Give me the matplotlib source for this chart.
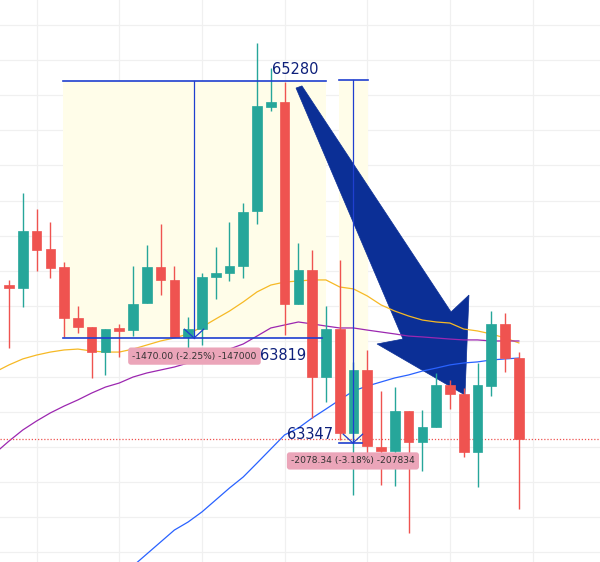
import numpy as np
import matplotlib
matplotlib.use("Agg")
import matplotlib.pyplot as plt
from matplotlib.patches import Polygon

# candle data (price)
opens = [64120, 64103, 64427, 64325, 64223, 63933, 63881, 63739, 63876, 63864,
         64018, 64223, 64149, 63825, 63870, 64166, 64188, 64228, 64541, 65132,
         65161, 64012, 64206, 63597, 63870, 63279, 63637, 63199, 63177, 63404,
         63228, 63313, 63552, 63501, 63171, 63546, 63899, 63705]
highs = [64149, 64643, 64552, 64478, 64251, 64001, 63881, 63870, 63899, 64228,
         64348, 64467, 64228, 63938, 64188, 64336, 64478, 64586, 65496, 65354,
         65274, 64359, 64319, 64001, 64262, 63683, 63751, 63518, 63540, 63404,
         63410, 63620, 63580, 63535, 63677, 63972, 63961, 63739]
lows = [63762, 63995, 64200, 64160, 63825, 63847, 63592, 63609, 63711, 63830,
        64018, 64063, 63825, 63734, 63779, 64041, 64143, 64160, 64467, 65110,
        63836, 64012, 63364, 63455, 63239, 62926, 63142, 62983, 62978, 62710,
        63063, 63313, 63415, 63142, 62972, 63489, 63626, 62847]
closes = [64103, 64427, 64319, 64217, 63933, 63881, 63739, 63870, 63859, 64012,
          64223, 64149, 63825, 63870, 64166, 64188, 64228, 64535, 65138, 65161,
          64012, 64206, 63597, 63870, 63279, 63637, 63205, 63177, 63404, 63228,
          63313, 63552, 63501, 63171, 63552, 63899, 63705, 63245]

# moving averages, starting one bar before the first visible candle
ma_fast = [63626, 63666, 63700, 63722, 63739, 63751, 63756, 63745, 63739, 63739,
           63756, 63779, 63802, 63819, 63842, 63881, 63927, 63972, 64024, 64081,
           64120, 64137, 64143, 64149, 64149, 64109, 64098, 64058, 64007, 63972,
           63944, 63921, 63910, 63904, 63870, 63859, 63842, 63819, 63791]
ma_mid = [63165, 63233, 63296, 63347, 63393, 63432, 63467, 63506, 63540, 63563,
          63597, 63620, 63637, 63654, 63677, 63700, 63728, 63756, 63785, 63830,
          63876, 63893, 63910, 63899, 63887, 63876, 63876, 63864, 63853, 63842,
          63830, 63825, 63819, 63813, 63808, 63808, 63802, 63802, 63802]
# slow MA starts at bar 9
ma_slow = [62523, 62591, 62659, 62727, 62773, 62830, 62898, 62966, 63029, 63108,
           63188, 63268, 63307, 63364, 63415, 63467, 63518, 63546, 63569, 63592,
           63609, 63631, 63648, 63666, 63677, 63683, 63694, 63700, 63705]

last_price = 63245

# drawings
range1 = (3.92, 23.0, 63819, 65280, 13.43)   # x0, x1, low, high, arrow x
range2 = (23.95, 26.05, 63222, 65286, 24.96)
big_arrow = [(20.83, 65240), (21.26, 65252), (32.08, 63967), (33.38, 64063),
             (33.09, 63495), (26.71, 63785), (28.59, 63813)]

GREEN = "#26a69a"
RED = "#ef5350"
LINE = "#1f3fcf"
NAVY = "#0d1f7a"

fig = plt.figure(figsize=(6, 5.62), dpi=100)
ax = fig.add_axes([0, 0, 1, 1])
ax.set_xlim(-0.653, 42.89)
ax.set_ylim(62545.5, 65740.5)

# grid
for gx in range(2, 43, 6):
    ax.axvline(gx, color="#f0f0f0", lw=0.9, zorder=0)
for gy in range(62600, 65700, 200):
    ax.axhline(gy, color="#f0f0f0", lw=0.9, zorder=0)
ax.set_xticks([])
ax.set_yticks([])
for s in ax.spines.values():
    s.set_visible(False)

# range tools
for x0, x1, lo, hi, xa in (range1, range2):
    ax.fill_between([x0, x1], lo, hi, color="#fffde9", zorder=1, lw=0)
    ax.plot([x0, x1], [hi, hi], color=LINE, lw=1.2, zorder=5)
    ax.plot([xa, xa], [hi, lo], color=LINE, lw=0.9, zorder=5)
    ax.plot([xa - 0.7, xa, xa + 0.7], [lo + 50, lo, lo + 50], color=LINE, lw=0.9, zorder=5)
ax.plot([range1[0], 22.7], [range1[2], range1[2]], color=LINE, lw=1.2, zorder=5)
ax.plot([range2[0], 25.6], [range2[2], range2[2]], color=LINE, lw=1.2, zorder=5)

# big arrow
ax.add_patch(Polygon(big_arrow, closed=True, fc="#0b2f96", ec="#0b2f96", lw=0.5, zorder=2))

# moving averages
xm = np.arange(-1, len(opens))
ax.plot(xm, ma_fast, color="#f6b925", lw=0.9, zorder=3)
ax.plot(xm, ma_mid, color="#9c27b0", lw=0.9, zorder=3)
ax.plot(np.arange(9, len(opens)), ma_slow, color="#2962ff", lw=0.9, zorder=3)

# candles
x = np.arange(len(opens))
o = np.array(opens)
c = np.array(closes)
colors = [GREEN if cc >= oo else RED for oo, cc in zip(o, c)]
ax.vlines(x, lows, highs, colors=colors, lw=1.0, zorder=4)
body_lo = np.minimum(o, c)
body_h = np.maximum(np.abs(c - o), 6)
ax.bar(x, body_h, bottom=body_lo, width=0.7, color=colors, edgecolor=colors,
       lw=0.5, zorder=4)

# last price line
ax.axhline(last_price, color=RED, lw=0.9, ls=(0, (1, 1.5)), zorder=3)

# labels
ax.text(19.09, 65348, "65280", color=NAVY, fontsize=10.5, ha="left", va="center", zorder=6)
ax.text(18.21, 63722, "63819", color=NAVY, fontsize=10.5, ha="left", va="center", zorder=6)
ax.text(23.51, 63268, "63347", color=NAVY, fontsize=10.5, ha="right", va="center", zorder=6)
box = dict(boxstyle="round,pad=0.45,rounding_size=0.3", fc="#eba5b9", ec="none")
ax.text(13.46, 63716, "-1470.00 (-2.25%) -147000", color="#333333", fontsize=6.6,
        ha="center", va="center", bbox=box, zorder=6)
ax.text(24.96, 63120, "-2078.34 (-3.18%) -207834", color="#333333", fontsize=6.6,
        ha="center", va="center", bbox=box, zorder=6)

fig.savefig("out.png", dpi=100)
